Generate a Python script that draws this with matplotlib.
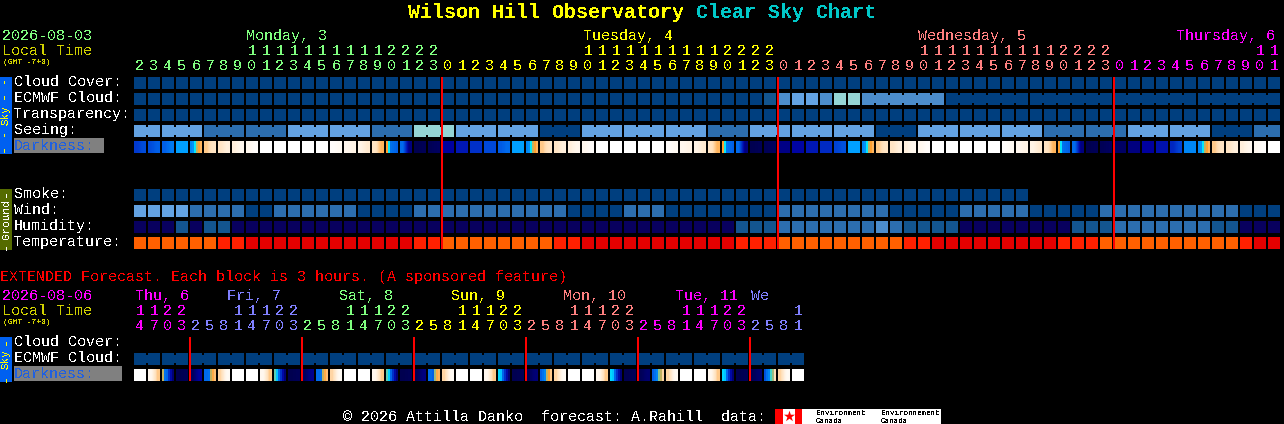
import matplotlib
matplotlib.use('Agg')
import matplotlib.pyplot as plt
from matplotlib.colors import LinearSegmentedColormap

plt.rcParams['font.family'] = ['Liberation Mono', 'DejaVu Sans Mono']
plt.rcParams['text.antialiased'] = False

# sky / ground block levels, index into level_colors
cloud = [0] * 82
ecmwf = [0] * 45 + [1, 3, 4, 4, 3, 5, 5] + [3] * 6 + [0] * 24
transparency = [0] * 82
seeing = [4] * 5 + [2] * 6 + [4] * 6 + [2] * 3 + [5] * 3 + [4] * 6 + [0] * 3 + [4] * 9 + [2] * 3 \
    + [4] * 9 + [0] * 3 + [4] * 9 + [2] * 6 + [4] * 6 + [0] * 3 + [2] * 2
smoke = [0] * 64
wind = [4] * 4 + [2] * 4 + [0] * 2 + [2] * 6 + [0] * 4 + [2] * 11 + [0] * 4 + [2] * 3 + [0] * 8 \
    + [2] * 8 + [0] * 5 + [2] * 5 + [0] * 5 + [2] * 10 + [0] * 3
humidity = [6] * 3 + [1] + [6] + [1] * 2 + [6] * 36 + [1] * 3 + [2] * 7 + [3] + [2] + [1] * 4 \
    + [6] * 8 + [1] * 3 + [2] * 7 + [1] * 2 + [6] * 3
temperature = [7] * 6 + [8] * 2 + [9] * 12 + [8] * 2 + [7] * 8 + [8] * 2 + [9] * 11 + [8] * 3 \
    + [7] * 9 + [8] * 2 + [9] * 9 + [8] * 3 + [7] * 10 + [8] + [9] * 2

# how many neighbouring blocks are joined together in a row
ecmwf_groups = [1] * 52 + [6] * 5
seeing_groups = [2] + [3] * 26 + [2]

# darkness of each block on a 0 (night) to 1 (daylight) scale
# two values = smooth change, more values = stepped bands
sunrise = (.36, .38, .5, .56, .58, .62)
sunset = (.58, .5, .33, .32, .31, .30)
darkness = [
    (.22, .26), (.26, .30), (.30, .34), (.40, .40), sunrise, (.66, .74), (.74, .82), (.82, .90),
    (.90, .97), (1, 1), (1, 1), (1, 1), (1, 1), (1, 1), (.97, .93), (.90, .85), (.85, .78), (.74, .62),
    sunset, (.32, .06), (0, .01), (.01, .02),
    (.10, .10), (.15, .15), (.20, .20), (.25, .25), (.29, .32), (.40, .40), sunrise, (.66, .74),
    (.74, .82), (.82, .90), (.90, .97), (1, 1), (1, 1), (1, 1), (1, 1), (1, 1), (.97, .93), (.90, .85),
    (.85, .78), (.74, .62), sunset, (.32, .06), (0, .01), (.01, .02),
    (.07, .07), (.11, .11), (.15, .15), (.19, .19), (.24, .27), (.40, .40), sunrise, (.66, .74),
    (.74, .82), (.82, .90), (.90, .97), (1, 1), (1, 1), (1, 1), (1, 1), (1, 1), (.97, .93), (.90, .85),
    (.85, .78), (.74, .62), sunset, (.32, .06), (0, .01), (.01, .02),
    (.03, .03), (.06, .06), (.10, .10), (.14, .14), (.18, .24), (.36, .36), sunrise, (.66, .74),
    (.74, .82), (.82, .90), (.92, .98), (1, 1),
]

ext_ecmwf = [0] * 48
ext_groups = [2] * 24
ext_darkness = [
    (1, 1), (.90, .66), (.56, .33, .31, .2, .12, .05), (0, .01), (.02, .10), (.32, .32, .33, .56, .6, .64), (.68, .93), (1, 1),
    (1, 1), (.90, .66), (.53, .45, .31, .2, .12, .05), (0, .01), (.02, .08), (.32, .32, .33, .56, .6, .64), (.68, .93), (1, 1),
    (1, 1), (.90, .66), (.53, .47, .31, .2, .12, .05), (0, .01), (.01, .06), (.32, .32, .3, .55, .6, .62), (.68, .93), (1, 1),
    (1, 1), (.90, .66), (.48, .45, .31, .2, .12, .05), (0, .01), (.01, .05), (.3, .33, .36, .56, .58, .66), (.68, .93), (1, 1),
    (1, 1), (.90, .66), (.48, .45, .31, .2, .12, .05), (0, .01), (.01, .04), (.3, .33, .36, .54, .56, .68), (.68, .93), (1, 1),
    (1, 1), (.90, .66), (.48, .45, .31, .2, .12, .05), (0, .01), (.01, .04), (.27, .33, .36, .52, .55, .7), (.68, .93), (1, 1),
]

hours = [h for h in range(2, 24)] + [h for h in range(24)] * 2 + [h for h in range(12)]
hour_colors = ['#80ff80'] * 22 + ['#ffff00'] * 24 + ['#ff8080'] * 24 + ['#ff00ff'] * 12
ext_hours = [14, 17, 20, 23] + [2, 5, 8, 11, 14, 17, 20, 23] * 5 + [2, 5, 8, 11]
ext_colors = ['#ff00ff'] * 4 + ['#8080ff'] * 8 + ['#80ff80'] * 8 + ['#ffff00'] * 8 \
    + ['#ff8080'] * 8 + ['#ff00ff'] * 8 + ['#8080ff'] * 4

day_names = ['Monday, 3', 'Tuesday, 4', 'Wednesday, 5', 'Thursday, 6']
day_x = [246, 583, 918, 1176]
day_colors = ['#80ff80', '#ffff00', '#ff8080', '#ff00ff']
ext_days = ['Thu, 6', 'Fri, 7', 'Sat, 8', 'Sun, 9', 'Mon, 10', 'Tue, 11', 'We']
ext_day_x = [135, 227, 339, 451, 563, 675, 751]
ext_day_colors = ['#ff00ff', '#8080ff', '#80ff80', '#ffff00', '#ff8080', '#ff00ff', '#8080ff']

level_colors = ['#003f7f', '#13558f', '#2c6eaf', '#4c8dcc', '#63a2e2', '#95d5d5', '#08005e',
                '#ff6000', '#ff2000', '#e40000']
dark_cmap = LinearSegmentedColormap.from_list('darkness', [
    (0, '#000050'), (.1, '#0000a0'), (.2, '#0030c8'), (.3, '#0060e8'), (.4, '#00a0ff'),
    (.5, '#00e8ff'), (.58, '#ffa030'), (.7, '#ffdfb8'), (.85, '#fff4e6'), (1, '#ffffff')])

X0 = 134
PITCH = 14
BLOCK = 12


def px(size):
    # font size in pixels to points at dpi 100
    return size * 0.72


fig = plt.figure(figsize=(12.84, 4.24), dpi=100, facecolor='black')
ax = fig.add_axes([0, 0, 1, 1])
ax.set_axis_off()


def label(x, y, s, color='white', size=15, **kw):
    ax.text(x, y, s, color=color, fontsize=px(size), va='baseline', **kw)


def blocks(values, y, groups=None):
    xs = [X0 + PITCH * i for i in range(len(values))]
    ax.bar(xs, BLOCK, width=BLOCK, bottom=y, align='edge', linewidth=0, antialiased=False,
           color=[level_colors[v] for v in values])
    # thin bridge between joined blocks
    if groups:
        i = 0
        for g in groups:
            for j in range(i, i + g - 1):
                ax.bar(xs[j] + BLOCK, BLOCK - 4, width=PITCH - BLOCK, bottom=y + 2, align='edge',
                       linewidth=0, antialiased=False, color=level_colors[values[j]])
            i += g


def dark_blocks(values, y):
    for i, block in enumerate(values):
        x = X0 + PITCH * i
        ax.imshow([block], cmap=dark_cmap, vmin=0, vmax=1, extent=(x, x + BLOCK, y + BLOCK, y),
                  interpolation='bilinear' if len(block) == 2 else 'nearest', aspect='auto', zorder=2)


def hour_labels(values, colors, y_tens, y_ones):
    for i, (h, c) in enumerate(zip(values, colors)):
        x = X0 + PITCH * i + 6
        if h >= 10:
            label(x, y_tens, str(h // 10), c, ha='center')
        label(x, y_ones, str(h % 10), c, ha='center')


def side_tab(y0, y1, color, name, text_color, dash):
    ax.bar(0, y1 - y0, width=12, bottom=y0, align='edge', color=color, linewidth=0)
    mid = (y0 + y1) / 2
    ax.text(6, mid, name, color=text_color, fontsize=px(11), rotation=90, ha='center', va='center')
    off = 4 if len(dash) == 1 else 12
    ax.text(6, y0 + off, dash, color=text_color, fontsize=px(13), rotation=90, ha='center', va='center')
    ax.text(6, y1 - off, dash, color=text_color, fontsize=px(13), rotation=90, ha='center', va='center')


# title
ax.text(408, 18, 'Wilson Hill Observatory', color='#ffff00', fontsize=px(20), fontweight='bold', va='baseline')
ax.text(696, 18, 'Clear Sky Chart', color='#00c8c8', fontsize=px(20), fontweight='bold', va='baseline')

# header
label(2, 40, '2026-08-03', '#80ff80')
label(2, 55, 'Local Time', '#d0d000')
label(3, 64, '(GMT -7+0)', '#d0d000', size=8)
for name, x, c in zip(day_names, day_x, day_colors):
    label(x, 40, name, c)
hour_labels(hours, hour_colors, 55, 70)

# sky rows
side_tab(77, 154, '#0060f0', 'Sky', '#ffff00', '- -')
for name, y in zip(['Cloud Cover:', 'ECMWF Cloud:', 'Transparency:', 'Seeing:'], [77, 93, 109, 125]):
    label(14, y + 9, name)
blocks(cloud, 77)
blocks(ecmwf, 93, ecmwf_groups)
blocks(transparency, 109)
blocks(seeing, 125, seeing_groups)
ax.bar(14, 15, width=90, bottom=138, align='edge', color='#808080', linewidth=0)
label(14, 150, 'Darkness:', '#2060e0')
dark_blocks(darkness, 141)

# ground rows
side_tab(189, 250, '#556b00', 'Ground', 'white', '-')
for name, y in zip(['Smoke:', 'Wind:', 'Humidity:', 'Temperature:'], [189, 205, 221, 237]):
    label(14, y + 9, name)
blocks(smoke, 189)
blocks(wind, 205)
blocks(humidity, 221)
blocks(temperature, 237)

# midnight lines
for col in [22, 46, 70]:
    ax.bar(X0 + PITCH * col - 1, 172, width=2, bottom=77, align='edge', color='#ff0000', linewidth=0, zorder=3)

# extended forecast
label(0, 281, 'EXTENDED Forecast. Each block is 3 hours. (A sponsored feature)', '#ff0000')
label(2, 300, '2026-08-06', '#ff00ff')
label(2, 315, 'Local Time', '#d0d000')
label(3, 324, '(GMT -7+0)', '#d0d000', size=8)
for name, x, c in zip(ext_days, ext_day_x, ext_day_colors):
    label(x, 300, name, c)
hour_labels(ext_hours, ext_colors, 315, 330)

side_tab(337, 382, '#0060f0', 'Sky', '#ffff00', '-')
label(14, 346, 'Cloud Cover:')
label(14, 362, 'ECMWF Cloud:')
blocks(ext_ecmwf, 353, ext_groups)
ax.bar(14, 15, width=108, bottom=366, align='edge', color='#808080', linewidth=0)
label(14, 378, 'Darkness:', '#2060e0')
dark_blocks(ext_darkness, 369)
for col in [4, 12, 20, 28, 36, 44]:
    ax.bar(X0 + PITCH * col - 1, 44, width=2, bottom=337, align='edge', color='#ff0000', linewidth=0, zorder=3)

# footer
label(343, 421, '\u00a9 2026 Attilla Danko  forecast: A.Rahill  data:')
ax.bar(775, 15, width=166, bottom=409, align='edge', color='white', linewidth=0)
ax.bar(775, 15, width=8, bottom=409, align='edge', color='#ff0000', linewidth=0)
ax.bar(795, 15, width=7, bottom=409, align='edge', color='#ff0000', linewidth=0)
ax.scatter([788.5], [416], marker='*', s=70, color='#ff0000', linewidths=0, zorder=3)
label(816, 415, 'Environment', 'black', size=7.5)
label(816, 423, 'Canada', 'black', size=7.5)
label(881, 415, 'Environnement', 'black', size=7.5)
label(881, 423, 'Canada', 'black', size=7.5)

ax.set_xlim(0, 1284)
ax.set_ylim(424, 0)
fig.savefig('out.png', dpi=100, facecolor='black')
